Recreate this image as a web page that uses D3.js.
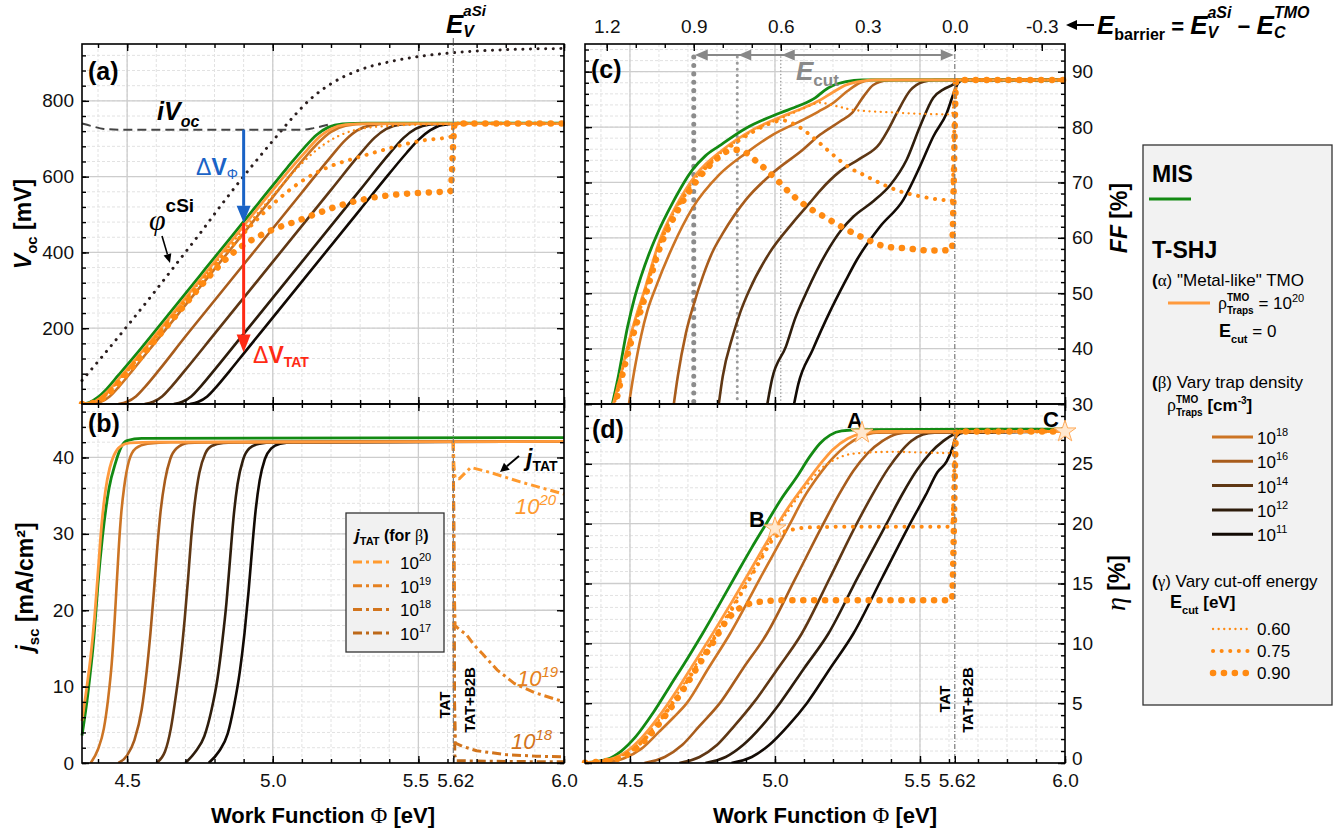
<!DOCTYPE html>
<html>
<head>
<meta charset="utf-8">
<script src="https://cdn.jsdelivr.net/npm/d3@7"></script>
<style>
  body { margin: 0; background: #fff; }
</style>
</head>
<body>
<script>
// ---------- values: [work function (eV), value] ----------
const phiMajor = [4.5, 5.0, 5.5, 6.0];
const phiLabelTicks = [4.5, 5.0, 5.5, 5.62, 6.0];
const vocTicks = [200, 400, 600, 800];
const jscTicks = [0, 10, 20, 30, 40];
const ffTicks = [30, 40, 50, 60, 70, 80, 90];
const etaTicks = [0, 5, 10, 15, 20, 25, 30];
const etaLabels = [0, 5, 10, 15, 20, 25];
const barrierTicks = [1.2, 0.9, 0.6, 0.3, 0.0, -0.3];
const cutEnergies = [0.9, 0.75, 0.6];
const trapExps = ["18", "16", "14", "12", "11"];
const tatExps = ["20", "19", "18", "17"];
const cutLabels = ["0.60", "0.75", "0.90"];

// (a) Voc [mV]
const vocMIS = [[4.345,0],[4.37,4],[4.40,18],[4.43,40],[4.47,76],[4.55,149],[4.65,244],[4.75,339],[4.85,434],[4.95,529],[5.05,624],[5.11,678],[5.15,710],[5.19,730],[5.24,739],[5.32,741],[6.0,741]];
const vocImplied = [[4.345,740],[4.38,733],[4.42,726],[4.47,724],[5.10,724],[5.14,728],[5.19,737]];
const vocPhiCSi = [[4.345,62],[4.40,112],[4.489,195],[4.58,282],[4.661,362],[4.75,450],[4.833,535],[4.92,620],[5.004,698],[5.073,760],[5.13,805],[5.20,845],[5.30,882],[5.40,903],[5.50,917],[5.62,927],[5.80,935],[6.0,938]];
const vocMetal = [[4.345,0],[4.38,4],[4.41,17],[4.44,38],[4.48,74],[4.56,147],[4.66,242],[4.76,337],[4.86,432],[4.96,527],[5.06,620],[5.12,672],[5.16,705],[5.20,726],[5.25,737],[5.33,740],[6.0,740]];
const vocCut060 = [[4.345,0],[4.385,4],[4.415,17],[4.445,38],[4.485,74],[4.565,147],[4.665,242],[4.765,336],[4.865,429],[4.95,505],[5.0,550],[5.05,594],[5.1,635],[5.15,670],[5.2,697],[5.25,715],[5.3,726],[5.4,734],[5.5,737],[5.61,738],[5.625,740],[6.0,740]];
const vocCut075 = [[4.345,0],[4.385,4],[4.415,17],[4.445,38],[4.485,74],[4.565,146],[4.665,240],[4.765,333],[4.84,400],[4.9,450],[4.95,490],[5.0,527],[5.05,560],[5.12,598],[5.2,628],[5.28,648],[5.36,666],[5.44,683],[5.52,696],[5.61,705],[5.625,740],[6.0,740]];
const vocCut090 = [[4.345,0],[4.39,4],[4.42,17],[4.45,38],[4.49,73],[4.57,145],[4.67,236],[4.74,300],[4.8,352],[4.85,390],[4.9,420],[4.95,442],[5.0,460],[5.08,482],[5.16,505],[5.23,524],[5.3,538],[5.4,551],[5.5,557],[5.61,562],[5.625,740],[6.0,740]];
const vocTrap18 = [[4.38,0],[4.41,6],[4.44,20],[4.47,44],[4.52,90],[4.6,166],[4.7,261],[4.8,356],[4.9,451],[5.0,546],[5.1,641],[5.16,692],[5.2,718],[5.25,734],[5.32,740],[6.0,740]];
const vocTrap16 = [[4.47,0],[4.50,6],[4.53,20],[4.56,44],[4.61,90],[4.7,178],[4.8,273],[4.9,368],[5.0,463],[5.1,558],[5.2,653],[5.25,697],[5.29,722],[5.34,736],[5.40,740],[6.0,740]];
const vocTrap14 = [[4.56,0],[4.59,6],[4.62,20],[4.65,44],[4.70,90],[4.8,185],[4.9,280],[5.0,375],[5.1,470],[5.2,565],[5.3,660],[5.35,703],[5.39,726],[5.44,738],[5.5,740],[6.0,740]];
const vocTrap12 = [[4.66,0],[4.69,6],[4.72,20],[4.75,44],[4.80,90],[4.9,185],[5.0,280],[5.1,375],[5.2,470],[5.3,565],[5.4,660],[5.45,703],[5.49,726],[5.54,738],[5.6,740],[6.0,740]];
const vocTrap11 = [[4.715,0],[4.745,6],[4.775,20],[4.805,44],[4.855,90],[4.9,133],[5.0,228],[5.1,323],[5.2,418],[5.3,513],[5.4,608],[5.46,663],[5.5,697],[5.54,722],[5.58,736],[5.64,740],[6.0,740]];

// (b) jsc [mA/cm2]
const jscMIS = [[4.345,3.6],[4.365,9],[4.386,16.5],[4.40,23.5],[4.415,29.5],[4.438,36],[4.46,39.3],[4.48,41.4],[4.50,42.2],[4.55,42.5],[6.0,42.6]];
const jscMetal = [[4.345,5.5],[4.36,9.5],[4.375,14],[4.388,19],[4.40,25],[4.412,31],[4.425,35.5],[4.44,38.6],[4.455,40.3],[4.475,41.4],[4.51,41.9],[4.6,42.0],[6.0,42.1]];
const jscTrap18 = [[4.375,0],[4.40,1.8],[4.42,4.5],[4.435,8.5],[4.447,13],[4.457,18.6],[4.465,24],[4.472,28.6],[4.48,32.8],[4.49,36.2],[4.506,39.5],[4.53,41.2],[4.57,41.8],[4.65,42.0],[6.0,42.1]];
const jscTrap16 = [[4.47,0],[4.50,1.0],[4.525,3],[4.55,7],[4.567,12],[4.58,17],[4.592,22.5],[4.603,28],[4.615,33],[4.63,37],[4.648,39.8],[4.67,41.2],[4.71,41.9],[4.8,42.0],[6.0,42.1]];
const jscTrap14 = [[4.60,0],[4.63,1.5],[4.65,4.5],[4.668,9],[4.685,14],[4.698,19],[4.71,24.5],[4.72,29.5],[4.732,34],[4.748,38],[4.768,40.5],[4.79,41.5],[4.83,41.9],[4.9,42.0],[6.0,42.1]];
const jscTrap12 = [[4.70,0],[4.735,1.5],[4.765,3.5],[4.79,7],[4.81,11],[4.827,16],[4.841,21],[4.853,26.5],[4.865,32],[4.879,36.5],[4.898,39.7],[4.92,41.2],[4.955,41.8],[5.0,42.0],[6.0,42.1]];
const jscTrap11 = [[4.78,0],[4.815,1.5],[4.845,3.8],[4.867,7.5],[4.887,12],[4.903,17],[4.917,22.5],[4.929,28],[4.941,33],[4.955,37],[4.973,39.8],[4.995,41.2],[5.025,41.8],[5.07,42.0],[6.0,42.1]];
const jTat20 = [[5.62,42.1],[5.622,39],[5.626,37.3],[5.64,37.2],[5.68,38.7],[5.75,38.0],[5.85,36.8],[6.0,35.2]];
const jTat19 = [[5.62,42.1],[5.622,25],[5.626,18.0],[5.64,17.5],[5.665,16.8],[5.69,15.5],[5.72,14.3],[5.77,12.2],[5.83,10.4],[5.9,9.2],[6.0,8.0]];
const jTat18 = [[5.62,42.1],[5.623,10],[5.627,2.6],[5.65,2.2],[5.7,1.6],[5.8,1.1],[5.9,0.9],[6.0,0.8]];
const jTat17 = [[5.62,42.1],[5.625,1],[5.63,0.3],[5.8,0.2],[6.0,0.15]];

// (c) FF [%]
const ffMIS = [[4.435,29],[4.46,35],[4.492,44],[4.515,49],[4.538,53],[4.565,57],[4.59,60.2],[4.647,66.3],[4.716,72.3],[4.76,74.8],[4.808,76.6],[4.9,79.8],[5.015,82.5],[5.08,83.8],[5.14,85.3],[5.17,86.6],[5.2,87.5],[5.245,88.2],[5.3,88.5],[6.0,88.5]];
const ffMetal = [[4.44,29.5],[4.46,33.5],[4.498,41.6],[4.525,46.5],[4.55,50.5],[4.575,55],[4.601,59.3],[4.659,65.7],[4.728,71.4],[4.82,75.9],[4.923,79.5],[5.038,82.2],[5.1,83.5],[5.153,84.8],[5.2,86.3],[5.245,87.6],[5.3,88.3],[5.35,88.5],[6.0,88.5]];
const ffCut060 = [[4.445,29.5],[4.465,34],[4.50,41.5],[4.55,50],[4.60,58.7],[4.66,65.3],[4.73,71.0],[4.82,75.6],[4.92,79.2],[5.04,82.0],[5.10,83.4],[5.155,84.4],[5.21,83.8],[5.27,83.1],[5.385,82.7],[5.5,82.4],[5.61,82.3],[5.625,88.5],[6.0,88.5]];
const ffCut075 = [[4.445,29.5],[4.465,34],[4.50,41.3],[4.55,49.8],[4.60,58.5],[4.66,65.1],[4.73,70.8],[4.82,75.4],[4.92,79.0],[4.98,80.6],[5.027,81.2],[5.084,80.0],[5.141,77.7],[5.2,75.0],[5.259,72.6],[5.305,71.4],[5.362,69.9],[5.431,68.4],[5.5,67.5],[5.569,66.9],[5.61,66.7],[5.625,88.5],[6.0,88.5]];
const ffCut090 = [[4.448,29.5],[4.468,34],[4.503,41],[4.553,49.5],[4.603,58.2],[4.663,64.8],[4.733,70.5],[4.80,74.3],[4.845,75.8],[4.874,75.9],[4.943,73.5],[5.0,70.8],[5.052,68.1],[5.109,65.7],[5.167,63.9],[5.247,61.5],[5.305,60],[5.385,58.4],[5.454,58.1],[5.535,57.7],[5.61,57.8],[5.625,88.5],[6.0,88.5]];
const ffTrap18 = [[4.495,29.5],[4.515,36],[4.538,42.2],[4.56,46.8],[4.59,51.2],[4.647,58.4],[4.716,65.4],[4.808,71.4],[4.9,75.3],[4.992,78.6],[5.096,81.3],[5.15,82.8],[5.199,84.3],[5.25,86.5],[5.293,88.0],[5.33,88.5],[6.0,88.5]];
const ffTrap16 = [[4.65,29.5],[4.665,35],[4.693,42.8],[4.72,48],[4.751,53],[4.785,57.5],[4.82,60.8],[4.9,66.9],[4.992,71.7],[5.096,75.9],[5.155,78.6],[5.224,81.0],[5.265,82.5],[5.305,85.5],[5.339,87.6],[5.385,88.4],[5.42,88.5],[6.0,88.5]];
const ffTrap14 = [[4.805,29.5],[4.82,35],[4.854,42.2],[4.88,46.5],[4.912,50.6],[4.98,57.2],[5.061,62.7],[5.12,66.3],[5.155,68.5],[5.224,72],[5.293,74.3],[5.362,77.1],[5.39,79.5],[5.42,82.5],[5.466,86.6],[5.512,88.2],[5.55,88.5],[6.0,88.5]];
const ffTrap12 = [[4.972,29.5],[4.99,34.5],[5.038,40.4],[5.07,45.5],[5.107,50],[5.176,57.2],[5.23,61.5],[5.27,63.8],[5.339,66.6],[5.397,69.5],[5.454,74.1],[5.5,80.1],[5.546,85.3],[5.581,86.8],[5.615,87.7],[5.632,88.4],[5.65,88.5],[6.0,88.5]];
const ffTrap11 = [[5.064,29.5],[5.08,33.5],[5.13,39.8],[5.187,46.4],[5.245,52.4],[5.282,56],[5.362,62],[5.443,66.9],[5.5,72.9],[5.546,78.3],[5.592,82.5],[5.621,86.8],[5.632,88],[5.65,88.5],[6.0,88.5]];

// (d) efficiency eta [%]
const etaMIS = [[4.345,0.02],[4.42,0.3],[4.47,1.0],[4.52,2.2],[4.58,4.2],[4.64,6.5],[4.70,8.8],[4.75,10.8],[4.80,12.9],[4.87,15.9],[4.92,18.0],[4.97,20.0],[5.02,22.0],[5.075,23.9],[5.12,25.6],[5.155,26.7],[5.19,27.4],[5.23,27.75],[5.30,27.85],[6.0,27.9]];
const etaMetal = [[4.345,0.02],[4.43,0.3],[4.49,1.0],[4.54,2.1],[4.60,3.9],[4.66,6.0],[4.72,8.3],[4.79,11.0],[4.85,13.4],[4.92,16.3],[5.0,19.6],[5.05,21.5],[5.11,23.5],[5.16,25.1],[5.2,26.2],[5.25,27.1],[5.3,27.55],[5.36,27.7],[6.0,27.7]];
const etaCut060 = [[4.345,0.02],[4.44,0.3],[4.50,1.0],[4.55,2.1],[4.61,3.9],[4.67,6.0],[4.73,8.3],[4.80,11.0],[4.86,13.4],[4.93,16.3],[5.0,19.3],[5.05,21.2],[5.09,22.6],[5.12,23.5],[5.155,24.5],[5.21,25.4],[5.27,25.85],[5.4,26.0],[5.61,25.9],[5.625,27.7],[6.0,27.7]];
const etaCut075 = [[4.345,0.02],[4.445,0.3],[4.505,1.0],[4.555,2.1],[4.615,3.9],[4.675,6.0],[4.735,8.3],[4.805,11.0],[4.865,13.4],[4.93,16.1],[4.96,17.4],[4.99,18.6],[5.02,19.2],[5.06,19.5],[5.13,19.7],[5.3,19.75],[5.61,19.75],[5.625,27.7],[6.0,27.7]];
const etaCut090 = [[4.345,0.02],[4.45,0.3],[4.51,1.0],[4.56,2.1],[4.62,3.9],[4.68,6.0],[4.74,8.3],[4.79,10.2],[4.83,11.8],[4.87,12.8],[4.91,13.3],[4.96,13.5],[5.02,13.6],[5.3,13.6],[5.61,13.6],[5.625,27.7],[6.0,27.7]];
const etaTrap18 = [[4.40,0],[4.48,0.4],[4.54,1.2],[4.60,2.6],[4.65,3.8],[4.696,5],[4.77,7.9],[4.845,10.8],[4.95,15.5],[5.052,20],[5.1,22.2],[5.15,24.0],[5.2,25.5],[5.25,26.6],[5.3,27.3],[5.35,27.6],[6.0,27.7]];
const etaTrap16 = [[4.55,0],[4.62,0.5],[4.68,1.5],[4.74,3.1],[4.81,5],[4.89,7.9],[4.972,10.8],[5.07,15.4],[5.167,20],[5.22,22.4],[5.27,24.4],[5.32,25.9],[5.37,26.9],[5.42,27.5],[5.47,27.65],[6.0,27.7]];
const etaTrap14 = [[4.67,0],[4.74,0.5],[4.80,1.5],[4.86,3.1],[4.925,5],[5.01,7.9],[5.092,10.8],[5.19,15.5],[5.282,20],[5.34,22.6],[5.39,24.6],[5.43,25.9],[5.47,26.9],[5.51,27.45],[5.55,27.6],[6.0,27.7]];
const etaTrap12 = [[4.76,0],[4.83,0.5],[4.89,1.5],[4.955,3.1],[5.017,5],[5.10,7.9],[5.184,10.8],[5.285,15.5],[5.385,20],[5.44,22.5],[5.49,24.5],[5.535,25.9],[5.58,26.9],[5.62,27.5],[5.65,27.65],[6.0,27.7]];
const etaTrap11 = [[4.85,0],[4.92,0.5],[4.98,1.5],[5.045,3.1],[5.11,5],[5.19,7.9],[5.27,10.8],[5.37,15.5],[5.466,20],[5.52,22.4],[5.56,24.3],[5.592,25.2],[5.61,26.2],[5.625,27.3],[5.65,27.6],[6.0,27.7]];

// marked operating points in (d)
const markPoints = [["A", 5.3, 27.6], ["B", 5.0, 19.6], ["C", 6.0, 27.7]];

// ---------- styles ----------
const FONT = "'Liberation Sans', Arial, Helvetica, sans-serif";
const SERIF = "'Liberation Serif', 'DejaVu Serif', serif";
const cGreen = "#138a13", cMetal = "#ff9a3d", cCut = "#ff8a12";
const trapColor = {"18": "#cc7424", "16": "#a85c1c", "14": "#5f3714", "12": "#2e1d0c", "11": "#120a04"};
const tatColor = {"20": "#ff9a2e", "19": "#e58120", "18": "#d2741c", "17": "#bd6818"};
const cutStyle = {
  "0.60": {w: 2.3, dash: "0.1 5.5"},
  "0.75": {w: 4, dash: "0.1 8.5"},
  "0.90": {w: 6.5, dash: "0.1 10.8"}
};

const svg = d3.select("body").append("svg").attr("width", 1341).attr("height", 833);
svg.append("rect").attr("width", 1341).attr("height", 833).attr("fill", "#fff");

const xL = d3.scaleLinear().domain([4.345, 6.0]).range([82, 564]);
const xR = d3.scaleLinear().domain([4.345, 6.0]).range([585, 1065]);
const yA = d3.scaleLinear().domain([0, 950]).range([404, 44]);
const yB = d3.scaleLinear().domain([0, 47]).range([763, 404]);
const yC = d3.scaleLinear().domain([30, 95]).range([404, 44]);
const yD = d3.scaleLinear().domain([0, 30]).range([763, 404]);
const xTop = d3.scaleLinear().domain([5.62 - 4.345, 5.62 - 6.0]).range([585, 1065]);

const phiMinor = d3.range(44, 61).map(i => i / 10);

// text with sub/superscripts
function rich(parent, x, y, segs, attrs) {
  const t = parent.append("text").attr("x", x).attr("y", y).attr("font-family", FONT);
  if (attrs) Object.entries(attrs).forEach(([k, v]) => t.attr(k, v));
  let cur = 0, prevLen = 0, pending = 0, supLen = 0;
  segs.forEach(s => {
    const sp = t.append("tspan").text(s.t);
    const off = s.off || 0;
    sp.attr("dy", off - cur); cur = off;
    if (s.size) sp.attr("font-size", s.size);
    if (s.it) sp.attr("font-style", "italic");
    sp.attr("font-weight", s.b ? "bold" : "normal");
    if (s.ff) sp.attr("font-family", s.ff);
    if (s.fill) sp.attr("fill", s.fill);
    let dx = (s.dx || 0);
    if (s.back) { supLen = prevLen; dx -= prevLen; }
    else { dx += pending; pending = 0; }
    if (dx) sp.attr("dx", dx);
    prevLen = sp.node().getComputedTextLength();
    if (s.back) pending = Math.max(0, supLen - prevLen);
  });
  return t;
}

function arrow(g, x1, y1, x2, y2, color, w, hl, hw) {
  const a = Math.atan2(y2 - y1, x2 - x1);
  const bx = x2 - hl * Math.cos(a), by = y2 - hl * Math.sin(a);
  g.append("line").attr("x1", x1).attr("y1", y1).attr("x2", bx).attr("y2", by)
    .attr("stroke", color).attr("stroke-width", w);
  const px = -Math.sin(a) * hw, py = Math.cos(a) * hw;
  g.append("path").attr("d", `M${x2},${y2}L${bx + px},${by + py}L${bx - px},${by - py}Z`).attr("fill", color);
}

// grid behind the curves
function grid(x, y, yMajor, yMinor) {
  const g = svg.append("g");
  const [x0, x1] = x.range(), [yb, yt] = y.range();
  const lines = (vals, vert, color, dash, w) => g.append("g").selectAll("line").data(vals).join("line")
    .attr("x1", d => vert ? x(d) : x0).attr("x2", d => vert ? x(d) : x1)
    .attr("y1", d => vert ? yt : y(d)).attr("y2", d => vert ? yb : y(d))
    .attr("stroke", color).attr("stroke-width", w).attr("stroke-dasharray", dash);
  lines(phiMinor, true, "#e2e2e2", "3,2", 1);
  lines(yMinor, false, "#e2e2e2", "3,2", 1);
  lines(phiMajor, true, "#cdcdcd", null, 1.3);
  lines(yMajor, false, "#cdcdcd", null, 1.3);
}

// frame and inward ticks
function axes(o) {
  const g = svg.append("g");
  const [x0, x1] = o.x.range(), [yb, yt] = o.y.range();
  const put = (gen, tx, ty, vals, len, fmt, pad) => {
    const a = g.append("g").attr("transform", `translate(${tx},${ty})`)
      .call(gen.tickValues(vals).tickSize(-len).tickPadding(pad || 0).tickFormat(fmt || (() => "")));
    a.select(".domain").remove();
    a.selectAll("line").attr("stroke", "#000").attr("stroke-width", 1.4);
    a.selectAll("text").attr("font-size", 19).attr("font-family", FONT).attr("fill", "#111");
    return a;
  };
  const fmtPhi = d => d === 5.62 ? "5.62" : d.toFixed(1);
  put(d3.axisBottom(o.x), 0, yb, phiMinor, 4);
  const bx = put(d3.axisBottom(o.x), 0, yb, o.bottomLabels ? phiLabelTicks : phiMajor, 7, o.bottomLabels ? fmtPhi : null, 11);
  // keep "5.5" and "5.62" apart as in the original
  bx.selectAll("text").filter(d => d === 5.5).attr("dx", -3);
  bx.selectAll("text").filter(d => d === 5.62).attr("dx", 2);
  if (o.top) {
    put(d3.axisTop(xTop), 0, yt, d3.range(-3, 13).map(i => i / 10), 4);
    put(d3.axisTop(xTop), 0, yt, barrierTicks, 7, d => d.toFixed(1), 11);
  } else {
    put(d3.axisTop(o.x), 0, yt, phiMinor, 4);
    put(d3.axisTop(o.x), 0, yt, phiMajor, 7);
  }
  const yfmt = d => o.yLabels.includes(d) ? String(d) : "";
  put(d3.axisLeft(o.y), x0, 0, o.yMinor, 4);
  put(d3.axisLeft(o.y), x0, 0, o.yMajor, 7, o.side === "left" ? yfmt : null, 8);
  put(d3.axisRight(o.y), x1, 0, o.yMinor, 4);
  const ry = put(d3.axisRight(o.y), x1, 0, o.yMajor, 7, o.side === "right" ? yfmt : null, 7);
  if (o.bottomLabels && o.side === "right") ry.selectAll("text").filter(d => d === 0).attr("dy", "0.1em");
  g.append("rect").attr("x", x0).attr("y", yt).attr("width", x1 - x0).attr("height", yb - yt)
    .attr("fill", "none").attr("stroke", "#000").attr("stroke-width", 1.6);
}

let clipN = 0;
function curves(x, y, list) {
  const id = "clip" + (clipN++);
  const [x0, x1] = x.range(), [yb, yt] = y.range();
  svg.append("clipPath").attr("id", id).append("rect")
    .attr("x", x0 - 4).attr("y", yt).attr("width", x1 - x0 + 8).attr("height", yb - yt);
  const g = svg.append("g").attr("clip-path", `url(#${id})`);
  list.forEach(c => {
    g.append("path").datum(c.data)
      .attr("d", d3.line().x(d => x(d[0])).y(d => y(d[1])).curve(c.curve || d3.curveMonotoneX))
      .attr("fill", "none").attr("stroke", c.color).attr("stroke-width", c.w)
      .attr("stroke-dasharray", c.dash || null)
      .attr("stroke-linecap", c.dash && c.dash.startsWith("0.1") ? "round" : "butt")
      .attr("stroke-linejoin", "round");
  });
  return g;
}

function familyCurves(sets) {
  const list = [];
  ["11", "12", "14", "16", "18"].forEach(k => list.push({data: sets.trap[k], color: trapColor[k], w: 2.6}));
  list.push({data: sets.mis, color: cGreen, w: 2.8});
  list.push({data: sets.metal, color: cMetal, w: 2.8});
  if (sets.cut) ["0.60", "0.75", "0.90"].forEach(k =>
    list.push({data: sets.cut[k], color: cCut, w: cutStyle[k].w, dash: cutStyle[k].dash}));
  return list;
}

// ---------- panel (a) ----------
grid(xL, yA, vocTicks, d3.range(40, 950, 40));
curves(xL, yA, [
  {data: vocPhiCSi, color: "#2a1e1e", w: 3, dash: "0.1 7.5"},
  {data: vocImplied, color: "#444", w: 2, dash: "9,5"},
  ...familyCurves({trap: {"18": vocTrap18, "16": vocTrap16, "14": vocTrap14, "12": vocTrap12, "11": vocTrap11},
    mis: vocMIS, metal: vocMetal, cut: {"0.60": vocCut060, "0.75": vocCut075, "0.90": vocCut090}})
]);

// ---------- panel (b) ----------
grid(xL, yB, jscTicks, d3.range(0, 47, 2));
curves(xL, yB, [
  ...familyCurves({trap: {"18": jscTrap18, "16": jscTrap16, "14": jscTrap14, "12": jscTrap12, "11": jscTrap11},
    mis: jscMIS, metal: jscMetal}),
  {data: jTat17, color: tatColor["17"], w: 3, dash: "9,4,3,4", curve: d3.curveLinear},
  {data: jTat18, color: tatColor["18"], w: 3, dash: "9,4,3,4", curve: d3.curveLinear},
  {data: jTat19, color: tatColor["19"], w: 3, dash: "9,4,3,4", curve: d3.curveLinear},
  {data: jTat20, color: tatColor["20"], w: 3, dash: "9,4,3,4", curve: d3.curveLinear}
]);

// ---------- panel (c) ----------
grid(xR, yC, ffTicks, d3.range(30, 95, 2));
// cut-off energy guides
const guide = svg.append("g");
[[0.9, "#8c8c8c", 5, "0.1 8.3"], [0.75, "#9a9a9a", 3, "0.1 6"], [0.6, "#a0a0a0", 1.6, "0.1 3.4"]].forEach(([e, c, w, dash]) => {
  guide.append("line").attr("x1", xTop(e)).attr("x2", xTop(e)).attr("y1", 57).attr("y2", 404)
    .attr("stroke", c).attr("stroke-width", w).attr("stroke-dasharray", dash).attr("stroke-linecap", "round");
});
curves(xR, yC, familyCurves({trap: {"18": ffTrap18, "16": ffTrap16, "14": ffTrap14, "12": ffTrap12, "11": ffTrap11},
  mis: ffMIS, metal: ffMetal, cut: {"0.60": ffCut060, "0.75": ffCut075, "0.90": ffCut090}}));

// ---------- panel (d) ----------
grid(xR, yD, etaTicks, d3.range(0, 30, 1));
curves(xR, yD, familyCurves({trap: {"18": etaTrap18, "16": etaTrap16, "14": etaTrap14, "12": etaTrap12, "11": etaTrap11},
  mis: etaMIS, metal: etaMetal, cut: {"0.60": etaCut060, "0.75": etaCut075, "0.90": etaCut090}}));

// valence band edge of aSi at 5.62 eV
const ann = svg.append("g");
ann.append("line").attr("x1", xL(5.62)).attr("x2", xL(5.62)).attr("y1", 38).attr("y2", 763)
  .attr("stroke", "#7a7a7a").attr("stroke-width", 1.2).attr("stroke-dasharray", "5,2,1,2");
ann.append("line").attr("x1", xR(5.62)).attr("x2", xR(5.62)).attr("y1", 44).attr("y2", 763)
  .attr("stroke", "#7a7a7a").attr("stroke-width", 1.2).attr("stroke-dasharray", "5,2,1,2");

axes({x: xL, y: yA, yMajor: vocTicks, yMinor: d3.range(40, 950, 40), yLabels: vocTicks, side: "left"});
axes({x: xL, y: yB, yMajor: jscTicks, yMinor: d3.range(0, 47, 2), yLabels: jscTicks, side: "left", bottomLabels: true});
axes({x: xR, y: yC, yMajor: ffTicks, yMinor: d3.range(30, 95, 2), yLabels: ffTicks, side: "right", top: true});
axes({x: xR, y: yD, yMajor: etaTicks, yMinor: d3.range(0, 30, 1), yLabels: etaLabels, side: "right", bottomLabels: true});

// ---------- annotations ----------
const T = svg.append("g");
[["(a)", 88, 80], ["(b)", 88, 432], ["(c)", 591, 78], ["(d)", 592, 438]].forEach(([s, x, y]) =>
  T.append("text").attr("x", x).attr("y", y).attr("font-family", FONT).attr("font-weight", "bold")
    .attr("font-size", 25).text(s));

rich(T, 446, 33, [{t: "E", it: 1, b: 1, size: 26}, {t: "aSi", it: 1, b: 1, size: 15, off: -17}, {t: "V", it: 1, b: 1, size: 16, off: 4, back: 1}]);

// axis titles
rich(T.append("g").attr("transform", "translate(31,224) rotate(-90)"), 0, 0,
  [{t: "V", it: 1, b: 1, size: 23}, {t: "oc", b: 1, size: 15, off: 6}, {t: " [mV]", b: 1, size: 23}], {"text-anchor": "middle"});
rich(T.append("g").attr("transform", "translate(33,587) rotate(-90)"), 0, 0,
  [{t: "j", it: 1, b: 1, size: 23}, {t: "sc", b: 1, size: 15, off: 6}, {t: " [mA/cm²]", b: 1, size: 23}], {"text-anchor": "middle"});
rich(T.append("g").attr("transform", "translate(1127,218) rotate(-90)"), 0, 0,
  [{t: "FF", it: 1, b: 1, size: 23}, {t: " [%]", b: 1, size: 23}], {"text-anchor": "middle"});
rich(T.append("g").attr("transform", "translate(1125,583) rotate(-90)"), 0, 0,
  [{t: "η", it: 1, size: 28, ff: SERIF}, {t: " [%]", b: 1, size: 23}], {"text-anchor": "middle"});
[323, 825].forEach(cx => rich(T, cx, 823,
  [{t: "Work Function ", b: 1, size: 22}, {t: "Φ", size: 23, ff: SERIF}, {t: " [eV]", b: 1, size: 22}], {"text-anchor": "middle"}));

// barrier axis caption
arrow(T, 1094, 25, 1066, 25, "#000", 2, 11, 5);
rich(T, 1097, 34, [{t: "E", it: 1, b: 1, size: 26}, {t: "barrier", b: 1, size: 16, off: 6},
  {t: " = ", b: 1, size: 22}, {t: "E", it: 1, b: 1, size: 26}, {t: "aSi", it: 1, b: 1, size: 16, off: -16},
  {t: "V", it: 1, b: 1, size: 16, off: 4, back: 1}, {t: " − ", b: 1, size: 22},
  {t: "E", it: 1, b: 1, size: 26}, {t: "TMO", it: 1, b: 1, size: 16, off: -16}, {t: "C", it: 1, b: 1, size: 16, off: 4, back: 1}]);

// panel (a) labels
rich(T, 157, 120, [{t: "iV", it: 1, b: 1, size: 25}, {t: "oc", it: 1, b: 1, size: 16, off: 7}]);
rich(T, 149, 230, [{t: "φ", it: 1, size: 30, ff: SERIF}, {t: "cSi", b: 1, size: 19, off: -18}]);
arrow(T, 162, 236, 170, 263, "#000", 1.6, 9, 4);
arrow(T, xL(4.9), yA(724), xL(4.9), yA(478), "#1a63c6", 3, 17, 7);
arrow(T, xL(4.9), yA(478), xL(4.9), yA(136), "#ff2a14", 3, 18, 7);
rich(T, 196, 175, [{t: "Δ", size: 23, fill: "#1a63c6"}, {t: "V", b: 1, size: 23, fill: "#1a63c6"}, {t: "Φ", size: 14, off: 4, fill: "#1a63c6"}]);
rich(T, 253, 363, [{t: "Δ", size: 23, fill: "#ff2a14"}, {t: "V", b: 1, size: 23, fill: "#ff2a14"}, {t: "TAT", b: 1, size: 14, off: 4, fill: "#ff2a14"}]);

// panel (b) labels
rich(T, 526, 466, [{t: "j", it: 1, b: 1, size: 23}, {t: "TAT", b: 1, size: 14, off: 5}]);
arrow(T, 519, 456, 500, 472, "#000", 2, 9, 4.5);
[["20", 515, 514], ["19", 517, 686], ["18", 511, 749]].forEach(([e, x, y]) =>
  rich(T, x, y, [{t: "10", it: 1, size: 22, fill: tatColor[e]}, {t: e, it: 1, size: 15, off: -9, fill: tatColor[e]}]));
[[450, 705, "TAT"], [475, 700, "TAT+B2B"], [950, 699, "TAT"], [973, 700, "TAT+B2B"]].forEach(([x, y, s]) =>
  T.append("g").attr("transform", `translate(${x},${y}) rotate(-90)`).append("text")
    .attr("text-anchor", "middle").attr("font-family", FONT).attr("font-weight", "bold").attr("font-size", 15).text(s));

// j_TAT legend box
const lb = svg.append("g");
lb.append("rect").attr("x", 346).attr("y", 513).attr("width", 98).attr("height", 139)
  .attr("fill", "#f1f1f1").attr("stroke", "#333").attr("stroke-width", 1.3);
rich(lb, 355, 541, [{t: "j", it: 1, b: 1, size: 17}, {t: "TAT", b: 1, size: 11, off: 4}, {t: " (for ", b: 1, size: 16}, {t: "β", size: 16, ff: SERIF}, {t: ")", b: 1, size: 16}]);
tatExps.forEach((e, i) => {
  const yy = 562 + i * 23.7;
  lb.append("line").attr("x1", 353).attr("x2", 392).attr("y1", yy).attr("y2", yy)
    .attr("stroke", tatColor[e]).attr("stroke-width", 3).attr("stroke-dasharray", "9,4,3,4");
  rich(lb, 400, yy + 7, [{t: "10", size: 17}, {t: e, size: 11, off: -8}]);
});

// E_cut arrows in (c)
const ec = svg.append("g");
ec.append("line").attr("x1", xTop(0.9) + 6).attr("x2", xTop(0) - 6).attr("y1", 55).attr("y2", 55)
  .attr("stroke", "#888").attr("stroke-width", 2);
cutEnergies.forEach(e => arrow(ec, xTop(e) + 14, 55, xTop(e) + 1, 55, "#888", 2, 13, 5.5));
arrow(ec, xTop(0) - 14, 55, xTop(0) - 1, 55, "#888", 2, 13, 5.5);
rich(ec, 796, 80, [{t: "E", it: 1, b: 1, size: 26, fill: "#8a8a8a"}, {t: "cut", b: 1, size: 17, off: 6, fill: "#8a8a8a"}]);

// A, B, C markers in (d)
const star = d3.symbol(d3.symbolStar).size(150);
markPoints.forEach(([n, p, v]) => {
  svg.append("path").attr("d", star).attr("transform", `translate(${xR(p)},${yD(v)})`)
    .attr("fill", "#ffe8cf").attr("stroke", "#ffac5c").attr("stroke-width", 1);
});
[["A", 855, 428], ["B", 757, 527], ["C", 1051, 427]].forEach(([s, x, y]) =>
  T.append("text").attr("x", x).attr("y", y).attr("text-anchor", "middle").attr("font-family", FONT)
    .attr("font-weight", "bold").attr("font-size", 22).text(s));

// ---------- right legend ----------
const L = svg.append("g");
L.append("rect").attr("x", 1143).attr("y", 145).attr("width", 189).attr("height", 560)
  .attr("fill", "#f2f2f2").attr("stroke", "#333").attr("stroke-width", 1.3);
L.append("text").attr("x", 1152).attr("y", 182).attr("font-family", FONT).attr("font-weight", "bold").attr("font-size", 23).text("MIS");
L.append("line").attr("x1", 1149).attr("x2", 1191).attr("y1", 199).attr("y2", 199).attr("stroke", cGreen).attr("stroke-width", 3);
L.append("text").attr("x", 1152).attr("y", 258).attr("font-family", FONT).attr("font-weight", "bold").attr("font-size", 23).text("T-SHJ");
rich(L, 1152, 286, [{t: "(", b: 1, size: 17}, {t: "α", size: 17, ff: SERIF}, {t: ") \"Metal-like\" TMO", size: 17}]);
L.append("line").attr("x1", 1168).attr("x2", 1210).attr("y1", 303).attr("y2", 303).attr("stroke", cMetal).attr("stroke-width", 3);
rich(L, 1218, 309, [{t: "ρ", size: 18, ff: SERIF}, {t: "TMO", b: 1, size: 10, off: -8}, {t: "Traps", b: 1, size: 10, off: 5, back: 1},
  {t: " = 10", size: 17, off: 0}, {t: "20", size: 11, off: -7}]);
rich(L, 1219, 337, [{t: "E", b: 1, size: 18}, {t: "cut", b: 1, size: 11, off: 6}, {t: "   = 0", size: 17, off: 0}]);
rich(L, 1152, 388, [{t: "(", b: 1, size: 17}, {t: "β", size: 17, ff: SERIF}, {t: ") Vary trap density", size: 17}]);
rich(L, 1167, 411, [{t: "ρ", size: 18, ff: SERIF}, {t: "TMO", b: 1, size: 10, off: -8}, {t: "Traps", b: 1, size: 10, off: 5, back: 1},
  {t: " [cm", b: 1, size: 17, off: 0}, {t: "-3", b: 1, size: 10, off: -7}, {t: "]", b: 1, size: 17, off: 0}]);
trapExps.forEach((e, i) => {
  const yy = 437 + i * 24.3;
  L.append("line").attr("x1", 1212).attr("x2", 1253).attr("y1", yy).attr("y2", yy).attr("stroke", trapColor[e]).attr("stroke-width", 3);
  rich(L, 1257, yy + 7, [{t: "10", size: 17}, {t: e, size: 11, off: -8}]);
});
rich(L, 1152, 587, [{t: "(", b: 1, size: 17}, {t: "γ", size: 17, ff: SERIF}, {t: ") Vary cut-off energy", size: 17}]);
rich(L, 1170, 608, [{t: "E", b: 1, size: 18}, {t: "cut", b: 1, size: 11, off: 6}, {t: " [eV]", b: 1, size: 17, off: 0}]);
cutLabels.forEach((k, i) => {
  const yy = 629 + i * 22;
  L.append("line").attr("x1", 1213).attr("x2", 1250).attr("y1", yy).attr("y2", yy).attr("stroke", cCut)
    .attr("stroke-width", cutStyle[k].w).attr("stroke-dasharray", cutStyle[k].dash).attr("stroke-linecap", "round");
  L.append("text").attr("x", 1257).attr("y", yy + 6).attr("font-family", FONT).attr("font-size", 17).text(k);
});
</script>
</body>
</html>
